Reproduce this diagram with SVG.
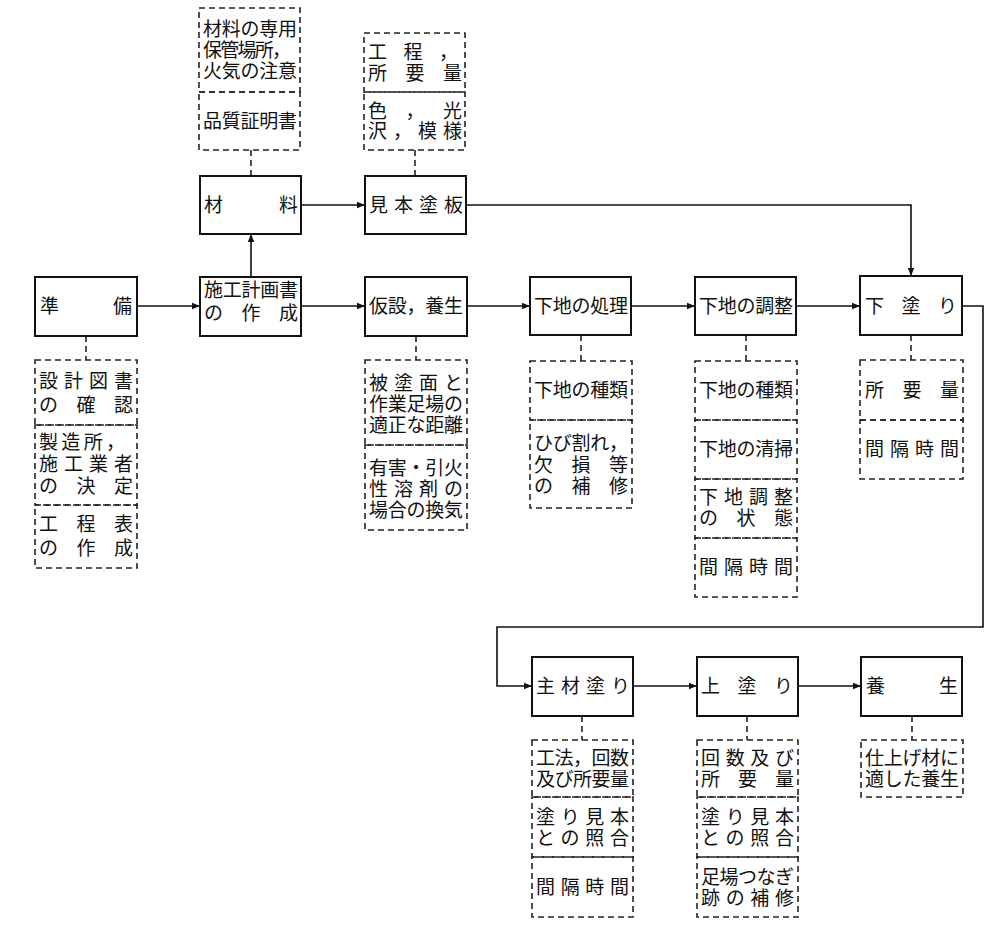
<svg xmlns="http://www.w3.org/2000/svg" width="1000" height="931" viewBox="0 0 1000 931">
<defs>
<style>
.m{fill:#fff;stroke:#111;stroke-width:2}
.d{fill:none;stroke:#222;stroke-width:1.6;stroke-dasharray:6 4}
.c{fill:none;stroke:#111;stroke-width:1.6}
text{font-family:"Noto Sans CJK JP","Noto Sans CJK SC",sans-serif;font-size:19px;fill:#111}
</style>
<marker id="a" viewBox="0 0 10 10" refX="10" refY="5" markerWidth="8" markerHeight="8" orient="auto" markerUnits="userSpaceOnUse"><path d="M0,1 L10,5 L0,9 z" fill="#111"/></marker>
</defs>
<rect width="1000" height="931" fill="#fff"/>
<g id="connectors">
<path class="c" d="M137,306 H200" marker-end="url(#a)"/>
<path class="c" d="M301,306 H365" marker-end="url(#a)"/>
<path class="c" d="M467,306 H530" marker-end="url(#a)"/>
<path class="c" d="M631,306 H695" marker-end="url(#a)"/>
<path class="c" d="M796,306 H860" marker-end="url(#a)"/>
<path class="c" d="M251,277 V234" marker-end="url(#a)"/>
<path class="c" d="M301,205 H365" marker-end="url(#a)"/>
<path class="c" d="M466,205 H911 V276" marker-end="url(#a)"/>
<path class="c" d="M962,306 H983 V627 H497 V686 H532" marker-end="url(#a)"/>
<path class="c" d="M633,686 H697" marker-end="url(#a)"/>
<path class="c" d="M798,686 H861" marker-end="url(#a)"/>
<g class="d">
<path d="M86,336 V360"/><path d="M251,150 V176"/><path d="M415,150 V176"/>
<path d="M416,336 V360"/><path d="M581,335 V361"/><path d="M746,335 V361"/><path d="M911,335 V360"/>
<path d="M582,716 V740"/><path d="M747,716 V740"/><path d="M912,716 V740"/>
</g>
</g>
<g id="n-junbi"><rect class="m" x="35" y="277" width="102" height="59"/><text x="40" y="313" textLength="92">準備</text></g>
<g id="n-sekou"><rect class="m" x="200" y="277" width="101" height="59"/><text x="204" y="297" textLength="94">施工計画書</text><text x="204" y="320" textLength="94">の作成</text></g>
<g id="n-kasetsu"><rect class="m" x="365" y="277" width="102" height="59"/><text x="369" y="313" textLength="94">仮設，養生</text></g>
<g id="n-shori"><rect class="m" x="530" y="277" width="101" height="58"/><text x="534" y="313" textLength="94">下地の処理</text></g>
<g id="n-chosei"><rect class="m" x="695" y="277" width="101" height="58"/><text x="699" y="313" textLength="94">下地の調整</text></g>
<g id="n-shitanuri"><rect class="m" x="860" y="276" width="102" height="59"/><text x="865" y="313" textLength="92">下塗り</text></g>
<g id="n-zairyo"><rect class="m" x="200" y="176" width="101" height="58"/><text x="204" y="212" textLength="94">材料</text></g>
<g id="n-mihon"><rect class="m" x="365" y="176" width="101" height="58"/><text x="369" y="212" textLength="94">見本塗板</text></g>
<g id="n-shuzai"><rect class="m" x="532" y="657" width="101" height="59"/><text x="536" y="693" textLength="94">主材塗り</text></g>
<g id="n-uwanuri"><rect class="m" x="697" y="657" width="101" height="59"/><text x="701" y="693" textLength="92">上塗り</text></g>
<g id="n-yojo"><rect class="m" x="861" y="657" width="101" height="59"/><text x="866" y="693" textLength="92">養生</text></g>

<g id="d-zairyo"><rect class="d" x="199" y="8" width="101" height="84"/><rect class="d" x="199" y="92" width="101" height="58"/>
<text x="203" y="36" textLength="94">材料の専用</text><text x="203" y="57" textLength="88">保管場所，</text><text x="203" y="78" textLength="94">火気の注意</text><text x="203" y="128" textLength="94">品質証明書</text></g>
<g id="d-mihon"><rect class="d" x="364" y="33" width="101" height="59"/><rect class="d" x="364" y="92" width="101" height="58"/>
<text x="368" y="59" textLength="90">工程，</text><text x="368" y="80" textLength="94">所要量</text><text x="368" y="118" textLength="94">色，光</text><text x="368" y="138" textLength="94">沢，模様</text></g>
<g id="d-junbi"><rect class="d" x="35" y="360" width="102" height="65"/><rect class="d" x="35" y="425" width="102" height="80"/><rect class="d" x="35" y="505" width="102" height="63"/>
<text x="39" y="388" textLength="94">設計図書</text><text x="39" y="412" textLength="94">の確認</text>
<text x="39" y="449" textLength="86">製造所，</text><text x="39" y="471" textLength="94">施工業者</text><text x="39" y="493" textLength="94">の決定</text>
<text x="39" y="531" textLength="94">工程表</text><text x="39" y="555" textLength="94">の作成</text></g>
<g id="d-kasetsu"><rect class="d" x="365" y="360" width="102" height="85"/><rect class="d" x="365" y="445" width="102" height="85"/>
<text x="369" y="390" textLength="94">被塗面と</text><text x="369" y="411" textLength="94">作業足場の</text><text x="369" y="432" textLength="94">適正な距離</text>
<text x="369" y="475" textLength="94">有害・引火</text><text x="369" y="496" textLength="94">性溶剤の</text><text x="369" y="517" textLength="94">場合の換気</text></g>
<g id="d-shori"><rect class="d" x="530" y="361" width="102" height="59"/><rect class="d" x="530" y="420" width="102" height="88"/>
<text x="534" y="397" textLength="94">下地の種類</text><text x="534" y="450" textLength="94">ひび割れ，</text><text x="534" y="472" textLength="94">欠損等</text><text x="534" y="493" textLength="94">の補修</text></g>
<g id="d-chosei"><rect class="d" x="695" y="361" width="102" height="59"/><rect class="d" x="695" y="420" width="102" height="59"/><rect class="d" x="695" y="479" width="102" height="59"/><rect class="d" x="695" y="538" width="102" height="59"/>
<text x="699" y="397" textLength="94">下地の種類</text><text x="699" y="456" textLength="94">下地の清掃</text><text x="699" y="504" textLength="94">下地調整</text><text x="699" y="525" textLength="94">の状態</text><text x="699" y="574" textLength="94">間隔時間</text></g>
<g id="d-shitanuri"><rect class="d" x="860" y="360" width="103" height="60"/><rect class="d" x="860" y="420" width="103" height="59"/>
<text x="865" y="397" textLength="94">所要量</text><text x="865" y="456" textLength="94">間隔時間</text></g>
<g id="d-shuzai"><rect class="d" x="532" y="740" width="101" height="57"/><rect class="d" x="532" y="797" width="101" height="60"/><rect class="d" x="532" y="857" width="101" height="60"/>
<text x="536" y="765" textLength="93">工法，回数</text><text x="536" y="786" textLength="93">及び所要量</text><text x="536" y="824" textLength="93">塗り見本</text><text x="536" y="845" textLength="93">との照合</text><text x="536" y="894" textLength="93">間隔時間</text></g>
<g id="d-uwanuri"><rect class="d" x="697" y="740" width="101" height="57"/><rect class="d" x="697" y="797" width="101" height="60"/><rect class="d" x="697" y="857" width="101" height="60"/>
<text x="701" y="765" textLength="93">回数及び</text><text x="701" y="786" textLength="93">所要量</text><text x="701" y="824" textLength="93">塗り見本</text><text x="701" y="845" textLength="93">との照合</text><text x="701" y="884" textLength="93">足場つなぎ</text><text x="701" y="905" textLength="93">跡の補修</text></g>
<g id="d-yojo"><rect class="d" x="861" y="740" width="102" height="57"/>
<text x="865" y="765" textLength="94">仕上げ材に</text><text x="865" y="786" textLength="94">適した養生</text></g>
</svg>
